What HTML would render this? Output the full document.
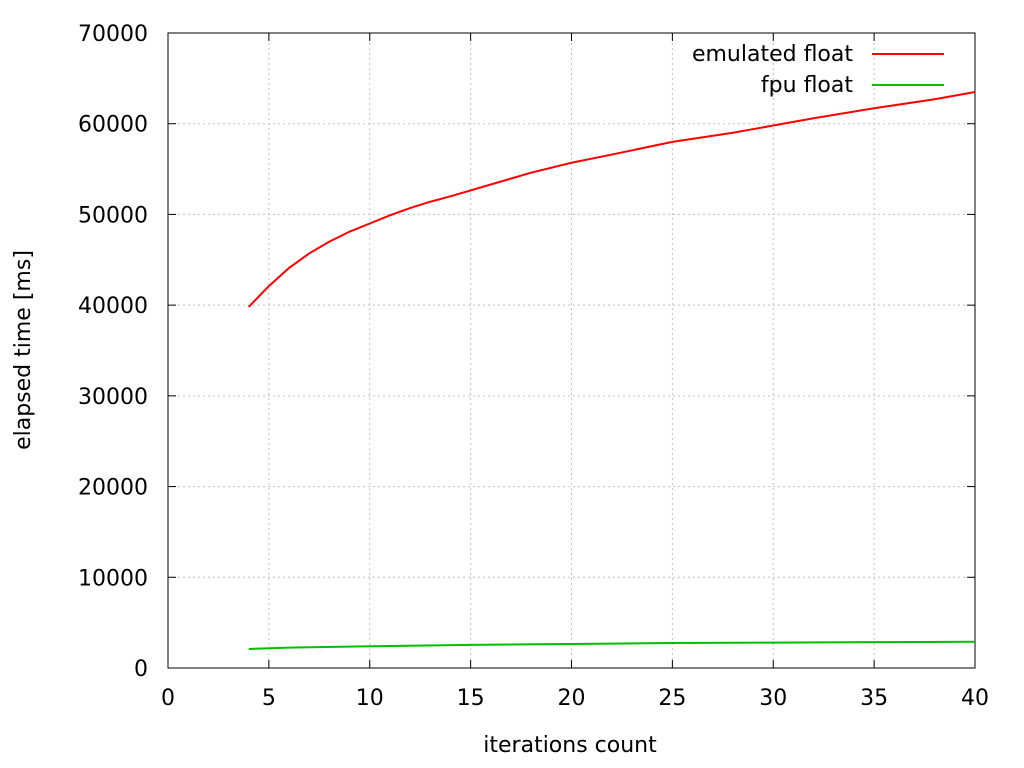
<!DOCTYPE html>
<html><head><meta charset="utf-8"><style>
body{margin:0;background:#fff;}
svg{display:block;font-family:"DejaVu Sans","Liberation Sans",sans-serif;}
</style></head><body>
<svg id="chart" width="1024" height="768">
<g id="grid"></g>
<g id="axes"></g>
<g id="series"></g>
<text x="570" y="752" font-size="22" text-anchor="middle">iterations count</text>
<text transform="translate(30,350) rotate(-90)" font-size="22" text-anchor="middle">elapsed time [ms]</text>
<g>
<g>
<text x="853" y="61" font-size="22" text-anchor="end">emulated float</text>
<line x1="872" y1="54" x2="944" y2="54" stroke="#ff0000" stroke-width="2"/></g>
<g>
<text x="853" y="92" font-size="22" text-anchor="end">fpu float</text>
<line x1="872" y1="85" x2="944" y2="85" stroke="#00c000" stroke-width="2"/></g>
</g>
</svg>
<script>
const xTicks=[0,5,10,15,20,25,30,35,40];
const yTicks=[0,10000,20000,30000,40000,50000,60000,70000];
const emuX=[4,5,6,7,8,9,10,11,12,13,14,16,18,20,22,25,28,30,32,35,38,40];
const emuY=[39800,42100,44100,45700,47000,48100,49000,49900,50700,51400,52000,53300,54600,55700,56600,58000,59000,59800,60600,61700,62700,63500];
const fpuX=[4,6,10,15,20,25,30,35,40];
const fpuY=[2100,2250,2400,2550,2650,2750,2800,2850,2900];
const X0=168,X1=975,Y0=668,Y1=33;
const sx=v=>X0+(v-0)/(40-0)*(X1-X0);
const sy=v=>Y0-(v-0)/(70000-0)*(Y0-Y1);
const NS="http://www.w3.org/2000/svg";
function mk(t,a,p){const e=document.createElementNS(NS,t);for(const k in a)e.setAttribute(k,a[k]);p.appendChild(e);return e;}
const grid=document.getElementById('grid'),axes=document.getElementById('axes'),series=document.getElementById('series');
xTicks.forEach(t=>{
 const x=sx(t);
 if(t>0&&t<40){const g=mk('line',{x1:x,y1:Y1,x2:x,y2:Y0,stroke:'#c0c0c0','stroke-dasharray':'2,3','stroke-width':1},grid);
 
 }
 mk('line',{x1:x,y1:Y0,x2:x,y2:Y0-8,stroke:'#000'},axes);
 mk('line',{x1:x,y1:Y1,x2:x,y2:Y1+8,stroke:'#000'},axes);
 const l=mk('text',{x:x,y:705,'font-size':22,'text-anchor':'middle'},axes);l.textContent=t;
 
 
});
yTicks.forEach(t=>{
 const y=sy(t);
 if(t>0&&t<70000){const g=mk('line',{x1:X0,y1:y,x2:X1,y2:y,stroke:'#c0c0c0','stroke-dasharray':'2,3','stroke-width':1},grid);
 
 }
 mk('line',{x1:X0,y1:y,x2:X0+8,y2:y,stroke:'#000'},axes);
 mk('line',{x1:X1,y1:y,x2:X1-8,y2:y,stroke:'#000'},axes);
 const l=mk('text',{x:148,y:y+8,'font-size':22,'text-anchor':'end'},axes);l.textContent=t;
 
 
});
const fr=mk('rect',{x:X0,y:Y1,width:X1-X0,height:Y0-Y1,fill:'none',stroke:'#000'},axes);


function line(xs,ys,c,name){
 const p=mk('polyline',{points:xs.map((x,i)=>sx(x)+','+sy(ys[i])).join(' '),fill:'none',stroke:c,'stroke-width':2},series);
 
 
}
line(emuX,emuY,'#ff0000','emulated-float-line');
line(fpuX,fpuY,'#00c000','fpu-float-line');
</script>
</body></html>
